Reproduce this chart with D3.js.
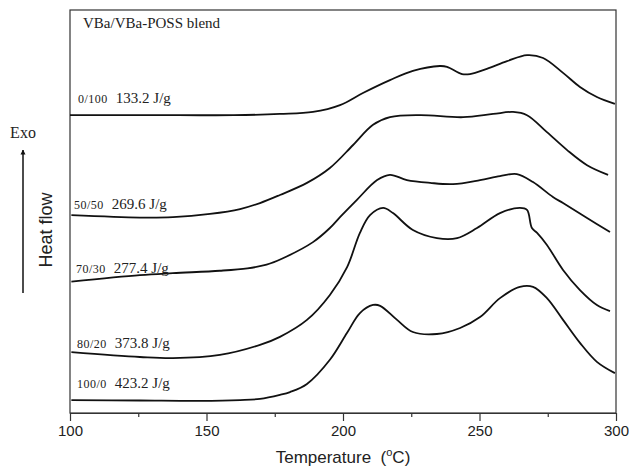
<!DOCTYPE html>
<html>
<head>
<meta charset="utf-8">
<script src="https://cdn.jsdelivr.net/npm/d3@7"></script>
<style>
  body { margin: 0; background: #fff; }
  svg { display: block; }
</style>
</head>
<body>
<div id="mychart"></div>
<script>
// DSC curves of VBa/VBa-POSS blends (heat flow in arbitrary units, curves offset)

const chartTarget = "#mychart"
const chartWidth = 629
const chartHeight = 470

// blend ratios and reaction enthalpies
const blends = ["0/100", "50/50", "70/30", "80/20", "100/0"]
const enthalpies = ["133.2 J/g", "269.6 J/g", "277.4 J/g", "373.8 J/g", "423.2 J/g"]

// temperature (°C) / heat flow (a.u.)
const t0 = [100, 140, 160, 176.9, 189, 198.9, 207.3, 217.2, 225.6, 235.5, 238.1, 243.6, 246.5, 252.7, 260.1, 267.4, 273.3, 280.6, 286.8, 293, 299.6]
const v0 = [7.39, 7.39, 7.39, 7.42, 7.47, 7.64, 7.94, 8.26, 8.49, 8.61, 8.59, 8.41, 8.41, 8.54, 8.73, 8.88, 8.81, 8.44, 8.09, 7.84, 7.67]

const t50 = [100.5, 125.6, 137.7, 151.3, 162.3, 169.6, 176.9, 186.8, 195.2, 203.7, 211, 217.2, 228.2, 244, 255, 262.3, 267.4, 274.7, 282, 289.4, 297.1]
const v50 = [4.91, 4.85, 4.86, 4.94, 5.06, 5.21, 5.41, 5.71, 6.08, 6.65, 7.15, 7.34, 7.39, 7.34, 7.42, 7.47, 7.39, 6.97, 6.53, 6.15, 5.91]

const t70 = [100.5, 125.6, 137.7, 154.9, 165, 172, 178, 189, 195.2, 198.9, 205.1, 212.5, 217.2, 223.4, 231.9, 240.3, 250.2, 257.5, 263.7, 269.6, 276.9, 280.6, 289.4, 297.8]
const v70 = [3.26, 3.42, 3.47, 3.53, 3.59, 3.68, 3.84, 4.24, 4.59, 4.86, 5.29, 5.78, 5.91, 5.78, 5.71, 5.68, 5.78, 5.88, 5.93, 5.73, 5.36, 5.21, 4.84, 4.49]

const t80 = [100.5, 125.6, 137.7, 154.9, 169.6, 176.9, 186.8, 195.2, 201.5, 206.2, 209.9, 214.7, 218.3, 225.6, 234.4, 241.8, 249.1, 257.5, 264.8, 267.4, 269.2, 271.1, 274.7, 280.6, 286.8, 293, 297.8]
const v80 = [1.51, 1.39, 1.36, 1.44, 1.69, 1.89, 2.31, 2.93, 3.62, 4.47, 4.91, 5.09, 4.96, 4.54, 4.34, 4.34, 4.59, 4.96, 5.09, 5.04, 4.59, 4.47, 4.17, 3.55, 3.05, 2.68, 2.53]

const t100 = [100.5, 125.6, 147.6, 162.3, 169.6, 176.9, 180.6, 186.8, 195.2, 201.5, 206.2, 211, 213.6, 219.8, 225.6, 234.4, 242.9, 250.2, 257.5, 264.8, 269.6, 274.7, 280.6, 286.8, 293, 299.6]
const v100 = [0.32, 0.31, 0.30, 0.32, 0.35, 0.45, 0.52, 0.72, 1.32, 1.99, 2.48, 2.68, 2.66, 2.31, 2.01, 1.96, 2.11, 2.38, 2.85, 3.13, 3.13, 2.85, 2.31, 1.74, 1.27, 0.99]

const temps = [t0, t50, t70, t80, t100]
const flows = [v0, v50, v70, v80, v100]

// x ticks
const majorTicks = [100, 150, 200, 250, 300]
const minorTicks = [125, 175, 225, 275]

// layout
const marginTop = 10
const marginRight = 13
const marginBottom = 57
const marginLeft = 70
const serif = "'Liberation Serif', 'Times New Roman', serif"
const sans = "'Liberation Sans', Arial, sans-serif"

const xScale = d3.scaleLinear([100, 300], [marginLeft, chartWidth - marginRight])
const yScale = d3.scaleLinear([0, 10], [chartHeight - marginBottom, marginTop])

const svg = d3.select(chartTarget)
  .append("svg")
  .attr("width", chartWidth)
  .attr("height", chartHeight)

// frame
svg.append("rect")
  .attr("x", xScale(100))
  .attr("y", yScale(10))
  .attr("width", xScale(300) - xScale(100))
  .attr("height", yScale(0) - yScale(10))
  .attr("fill", "none")
  .attr("stroke", "#333")
  .attr("stroke-width", 1.2)

// x axis, major + minor ticks
const xAxis = svg.append("g")
  .attr("transform", `translate(0,${yScale(0)})`)
  .call(d3.axisBottom(xScale).tickValues(majorTicks).tickSize(8).tickSizeOuter(0).tickPadding(4))
xAxis.select(".domain").attr("stroke", "#333").attr("stroke-width", 1.2)
xAxis.selectAll(".tick line").attr("stroke", "#333").attr("stroke-width", 1.2)
xAxis.selectAll(".tick text")
  .attr("font-family", sans)
  .attr("font-size", "15px")
  .attr("fill", "#222")

const xMinor = svg.append("g")
  .attr("transform", `translate(0,${yScale(0)})`)
  .call(d3.axisBottom(xScale).tickValues(minorTicks).tickSize(4).tickFormat(""))
xMinor.select(".domain").remove()
xMinor.selectAll(".tick line").attr("stroke", "#333").attr("stroke-width", 1.2)

// x axis title
const xTitle = svg.append("text")
  .attr("x", (xScale(100) + xScale(300)) / 2)
  .attr("y", 463)
  .attr("text-anchor", "middle")
  .attr("font-family", sans)
  .attr("font-size", "17px")
  .attr("fill", "#222")
xTitle.append("tspan").text("Temperature\u00a0\u00a0(")
xTitle.append("tspan").attr("dy", -7).attr("font-size", "11px").text("o")
xTitle.append("tspan").attr("dy", 7).text("C)")

// y axis: Exo arrow and Heat flow
svg.append("defs").append("marker")
  .attr("id", "arrowhead")
  .attr("viewBox", "0 0 10 10")
  .attr("refX", 9).attr("refY", 5)
  .attr("markerWidth", 5).attr("markerHeight", 7)
  .attr("markerUnits", "userSpaceOnUse")
  .attr("orient", "auto")
  .append("path")
  .attr("d", "M0,0 L10,5 L0,10 Z")
  .attr("fill", "#111")

svg.append("line")
  .attr("x1", 23).attr("y1", 293)
  .attr("x2", 23).attr("y2", 150)
  .attr("stroke", "#111")
  .attr("stroke-width", 1.5)
  .attr("marker-end", "url(#arrowhead)")

svg.append("text")
  .attr("x", 23).attr("y", 138)
  .attr("text-anchor", "middle")
  .attr("font-family", serif)
  .attr("font-size", "16px")
  .attr("fill", "#222")
  .text("Exo")

svg.append("text")
  .attr("transform", "translate(52,230) rotate(-90)")
  .attr("text-anchor", "middle")
  .attr("font-family", sans)
  .attr("font-size", "18px")
  .attr("fill", "#222")
  .text("Heat flow")

// title inside plot
svg.append("text")
  .attr("x", 83).attr("y", 28)
  .attr("font-family", serif)
  .attr("font-size", "15px")
  .attr("fill", "#222")
  .text("VBa/VBa-POSS blend")

// curves
const line = d3.line()
  .x(d => xScale(d[0]))
  .y(d => yScale(d[1]))
  .curve(d3.curveCatmullRom.alpha(0.5))

svg.append("g")
  .attr("fill", "none")
  .attr("stroke", "#111")
  .attr("stroke-width", 1.8)
  .selectAll("path")
  .data(blends.map((b, i) => d3.zip(temps[i], flows[i])))
  .join("path")
  .attr("d", line)

// curve labels
const labelX = [78, 74, 76, 77, 77]
const labelBase = [v0[0], v50[0], v70[0], v80[0], v100[0]]
const labelGap = [12, 6, 9, 4, 12]
const labels = svg.append("g")
  .attr("font-family", serif)
  .attr("fill", "#222")
blends.forEach((b, i) => {
  const t = labels.append("text")
    .attr("x", labelX[i])
    .attr("y", yScale(labelBase[i]) - labelGap[i])
  t.append("tspan").attr("font-size", "12px").attr("letter-spacing", "0.5px").text(b)
  t.append("tspan").attr("dx", 8).attr("font-size", "15px").text(enthalpies[i])
})
</script>
</body>
</html>
